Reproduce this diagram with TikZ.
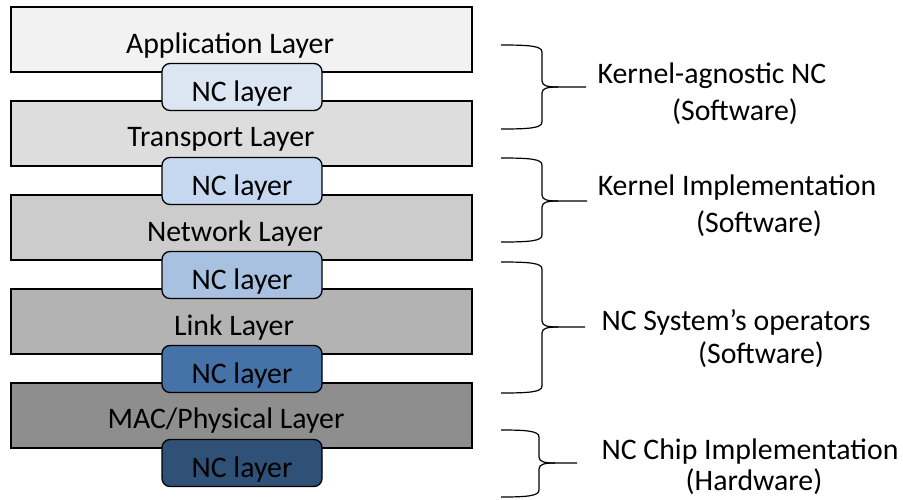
\documentclass[tikz,border=0pt]{standalone}
\usepackage{fontspec}
\setmainfont{Carlito}
\definecolor{lay1}{HTML}{F2F2F2}
\definecolor{lay2}{HTML}{DDDDDD}
\definecolor{lay3}{HTML}{CCCCCC}
\definecolor{lay4}{HTML}{B3B3B3}
\definecolor{lay5}{HTML}{8E8E8E}
\definecolor{nc1}{HTML}{DCE6F2}
\definecolor{nc2}{HTML}{C6D8EF}
\definecolor{nc3}{HTML}{A8C1E0}
\definecolor{nc4}{HTML}{4573A7}
\definecolor{nc5}{HTML}{2F5077}
\newcommand\mybrc[6]{%
  \draw[bracestyle] (#1,#4) .. controls ({#2-12},#4) and (#2,{#4+1}) .. (#2,{#4+7})
    -- (#2,{#6-6}) .. controls (#2,{#6-1}) and ({#2+6},#6) .. ({#2+16},#6) -- (#3,#6);
  \draw[bracestyle] (#1,#5) .. controls ({#2-12},#5) and (#2,{#5-1}) .. (#2,{#5-7})
    -- (#2,{#6+6}) .. controls (#2,{#6+1}) and ({#2+6},#6) .. ({#2+16},#6);
}
\tikzset{
  layerbox/.style={draw=black, line width=1.3pt, minimum width=461pt, minimum height=65pt, inner sep=0pt},
  ncbox/.style={draw=black, line width=1.3pt, rounded corners=8pt, minimum width=160pt, minimum height=47pt, inner sep=0pt},
  txt/.style={anchor=base, inner sep=0pt, font=\fontsize{29.8}{36}\selectfont, text=black},
  bracestyle/.style={draw=black, line width=1.2pt},
}
\begin{document}
\begin{tikzpicture}[x=1pt, y=-1pt]
\useasboundingbox (0,0) rectangle (903,499);
% layers
\node[layerbox, fill=lay1] (app) at (241.5,39.5) {};
\node[layerbox, fill=lay2] (tra) at (241.5,133.5) {};
\node[layerbox, fill=lay3] (net) at (241.5,227.5) {};
\node[layerbox, fill=lay4] (lnk) at (241.5,321.5) {};
\node[layerbox, fill=lay5] (mac) at (241.5,415.5) {};
\node[txt] (appt) at (230,53.3) {Application Layer};
\node[txt] (trat) at (221,146.7) {Transport Layer};
\node[txt] (nett) at (235,241) {Network Layer};
\node[txt] (lnkt) at (234,335) {Link Layer};
\node[txt] (mact) at (226,428.5) {MAC/Physical Layer};
% NC layers
\node[ncbox, fill=nc1] (nc1) at (242,87) {};
\node[ncbox, fill=nc2] (nc2) at (242,181) {};
\node[ncbox, fill=nc3] (nc3) at (242,275) {};
\node[ncbox, fill=nc4] (nc4) at (242,369) {};
\node[ncbox, fill=nc5] (nc5) at (242,463) {};
\node[txt] (nc1t) at (242,101.7) {NC layer};
\node[txt] (nc2t) at (242,195.7) {NC layer};
\node[txt] (nc3t) at (242,289.5) {NC layer};
\node[txt] (nc4t) at (242,383.5) {NC layer};
\node[txt] (nc5t) at (242,477.5) {NC layer};
% braces
\mybrc{501}{542}{586}{45}{129}{87}
\mybrc{501}{542}{587}{158}{242}{201}
\mybrc{501}{542}{585}{262}{393}{327}
\mybrc{501}{539}{577}{430}{497}{463}
% labels
\node[txt] (k1) at (712,83) {Kernel-agnostic NC};
\node[txt] (k1b) at (735,120) {(Software)};
\node[txt] (k2) at (737,195) {Kernel Implementation};
\node[txt] (k2b) at (759,232) {(Software)};
\node[txt] (k3) at (736,330) {NC System’s operators};
\node[txt] (k3b) at (761,363) {(Software)};
\node[txt] (k4) at (750,459) {NC Chip Implementation};
\node[txt] (k4b) at (754,490) {(Hardware)};
\end{tikzpicture}
\end{document}
